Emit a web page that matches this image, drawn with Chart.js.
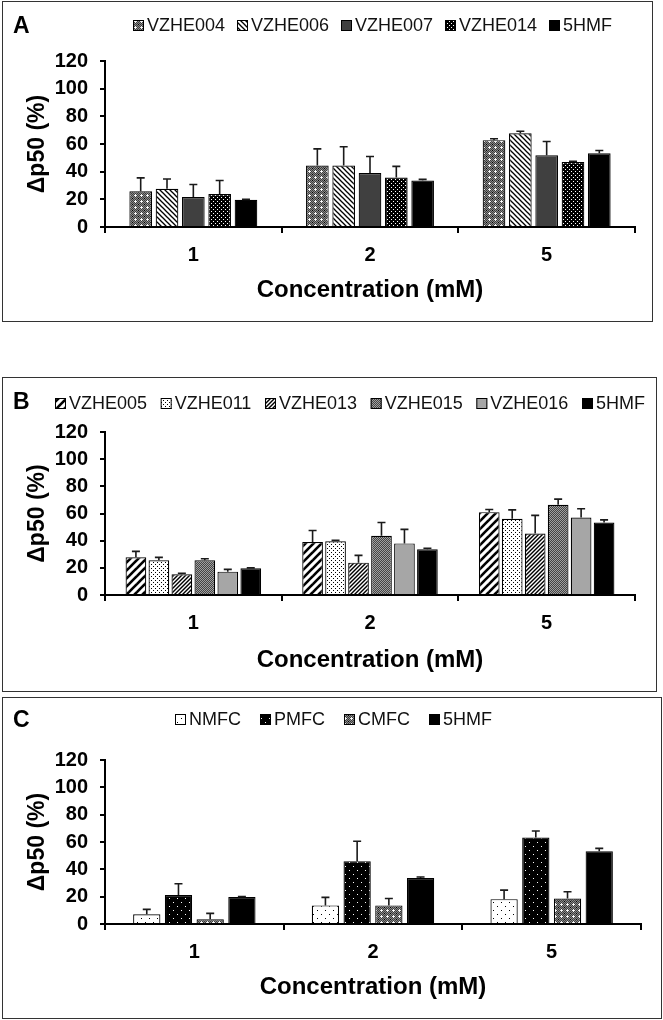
<!DOCTYPE html>
<html>
<head>
<meta charset="utf-8">
<script src="https://cdn.jsdelivr.net/npm/chart.js@4.4.0/dist/chart.umd.min.js"></script>
<style>
  body { margin: 0; background: #fff; width: 663px; height: 1020px; position: relative; overflow: hidden; font-family: "Liberation Sans", Arial, sans-serif; }
  .panel { position: absolute; border: 1.5px solid #333; box-sizing: border-box; }
  .tag { position: absolute; left: 13px; font-weight: bold; font-size: 23px; line-height: 22px; color: #000; }
  canvas { position: absolute; left: 0; }
</style>
</head>
<body>
<div class="panel" style="left:2px;top:1px;width:651px;height:321px"></div>
<div class="panel" style="left:2px;top:377px;width:655px;height:315px"></div>
<div class="panel" style="left:2px;top:697px;width:660px;height:322px"></div>

<canvas id="chartA" width="663" height="322" style="top:0px"></canvas>
<canvas id="chartB" width="663" height="315" style="top:377px"></canvas>
<canvas id="chartC" width="663" height="322" style="top:697px"></canvas>

<div class="tag" style="top:14px">A</div>
<div class="tag" style="top:390px">B</div>
<div class="tag" style="top:708px">C</div>

<script>
// concentrations (mM)
const categories = ['1', '2', '5'];
const yTicks = [0, 20, 40, 60, 80, 100, 120];

// 5HMF reference, shared by all panels
const hmf5 = [19.7, 33.6, 53.3];
const hmf5Err = [0.3, 0.8, 2];

// panel A
const vzhe004 = [25.8, 44.5, 62.8];
const vzhe004Err = [9.7, 12, 1];
const vzhe006 = [27.7, 44.5, 67.7];
const vzhe006Err = [7, 13.5, 1.5];
const vzhe007 = [21.7, 39, 51.8];
const vzhe007Err = [9, 12, 10];
const vzhe014 = [23.8, 35.8, 47];
const vzhe014Err = [9.8, 8, 0.5];

// panel B
const vzhe005 = [27.7, 39, 61];
const vzhe005Err = [4.4, 8.5, 2];
const vzhe011 = [25.5, 39.5, 56.1];
const vzhe011Err = [2.2, 0.7, 6.6];
const vzhe013 = [15.2, 23.8, 45.3];
const vzhe013Err = [0.8, 5.4, 13.3];
const vzhe015 = [25.5, 43.6, 66.4];
const vzhe015Err = [1.2, 9.8, 4.2];
const vzhe016 = [17.2, 38, 57.1];
const vzhe016Err = [1.7, 10.3, 6.4];

// panel C
const nmfc = [7.1, 13.6, 18.2];
const nmfcErr = [3.6, 5.9, 6.6];
const pmfc = [21.2, 46, 63.3];
const pmfcErr = [8.2, 14.6, 4.8];
const cmfc = [3.4, 13.6, 18.7];
const cmfcErr = [4.4, 5.1, 4.9];

const FONT = '"Liberation Sans", Arial, sans-serif';
Chart.defaults.font.family = FONT;
Chart.defaults.color = '#000';

// --- fill patterns (like the Excel ones) ---
const dummy = document.createElement('canvas').getContext('2d');
function tile(w, h, draw) {
  const c = document.createElement('canvas');
  c.width = w; c.height = h;
  draw(c.getContext('2d'), w, h);
  return dummy.createPattern(c, 'repeat');
}
function px(g, x, y, col) { g.fillStyle = col; g.fillRect(x, y, 1, 1); }
function stripes(g, w, h, bg, lw, dir) {
  g.fillStyle = bg; g.fillRect(0, 0, w, h);
  g.strokeStyle = '#000'; g.lineWidth = lw;
  for (let k = -1; k <= 1; k++) {
    g.beginPath();
    if (dir === '/') { g.moveTo(k * w - 1, h + 1); g.lineTo(k * w + w + 1, -1); }
    else { g.moveTo(k * w - 1, -1); g.lineTo(k * w + w + 1, h + 1); }
    g.stroke();
  }
}

const patGrayPlus = tile(6, 6, (g) => {
  for (let i = 0; i < 6; i++) for (let j = 0; j < 6; j++) px(g, i, j, (i + j) % 2 ? '#8a8a8a' : '#3c3c3c');
  [[3, 2], [2, 3], [4, 3], [3, 4]].forEach(p => px(g, p[0], p[1], '#eee'));
  px(g, 3, 3, '#fff');
  px(g, 0, 0, '#000');
});
const patBackslash = tile(5, 5, (g, w, h) => stripes(g, w, h, '#fff', 1.3, '\\'));
const patDarkDots = tile(4, 4, (g) => { g.fillStyle = '#000'; g.fillRect(0, 0, 4, 4); px(g, 1, 1, '#fff'); px(g, 3, 3, '#fff'); });
const patThickSlash = tile(8, 8, (g, w, h) => stripes(g, w, h, '#fff', 2.6, '/'));
const patLightDots = tile(4, 4, (g) => { g.fillStyle = '#fff'; g.fillRect(0, 0, 4, 4); px(g, 1, 1, '#000'); px(g, 3, 3, '#000'); });
const patThinSlash = tile(4, 4, (g, w, h) => stripes(g, w, h, '#fff', 1.4, '/'));
const patGrayCheck = tile(2, 2, (g) => { px(g, 0, 0, '#444'); px(g, 1, 1, '#444'); px(g, 1, 0, '#a0a0a0'); px(g, 0, 1, '#a0a0a0'); });
const patSparseWhite = tile(8, 8, (g) => { g.fillStyle = '#fff'; g.fillRect(0, 0, 8, 8); px(g, 1, 1, '#000'); px(g, 5, 5, '#000'); });
const patSparseBlack = tile(8, 8, (g) => { g.fillStyle = '#000'; g.fillRect(0, 0, 8, 8); px(g, 1, 1, '#fff'); px(g, 5, 5, '#fff'); });

// upper error bars
const errorBars = {
  id: 'errorBars',
  afterDatasetsDraw(chart) {
    const ctx = chart.ctx, y = chart.scales.y;
    ctx.save();
    ctx.strokeStyle = '#1a1a1a';
    ctx.lineWidth = 1.6;
    chart.data.datasets.forEach((ds, i) => {
      chart.getDatasetMeta(i).data.forEach((bar, j) => {
        const top = y.getPixelForValue(ds.data[j] + ds.errors[j]);
        ctx.beginPath();
        ctx.moveTo(bar.x, bar.y);
        ctx.lineTo(bar.x, top);
        ctx.moveTo(bar.x - 4, top);
        ctx.lineTo(bar.x + 4, top);
        ctx.stroke();
      });
    });
    ctx.restore();
  }
};

// legend row spread between x0 and x1 (Excel style)
const panelLegend = {
  id: 'panelLegend',
  afterDraw(chart, args, o) {
    const ctx = chart.ctx;
    ctx.save();
    ctx.font = '18px ' + FONT;
    ctx.textBaseline = 'middle';
    const items = chart.data.datasets.map(ds => ({ ds, w: o.box + o.gap + ctx.measureText(ds.label).width }));
    const total = items.reduce((s, it) => s + it.w, 0);
    const space = (o.x1 - o.x0 - total) / (items.length - 1);
    let x = o.x0;
    items.forEach(it => {
      const by = Math.round(o.y - o.box / 2);
      ctx.fillStyle = it.ds.backgroundColor;
      ctx.fillRect(x, by, o.box, o.box);
      ctx.strokeStyle = '#000';
      ctx.lineWidth = 1;
      ctx.strokeRect(x + 0.5, by + 0.5, o.box - 1, o.box - 1);
      ctx.fillStyle = '#111';
      ctx.fillText(it.ds.label, x + o.box + o.gap, o.y + 1);
      x += it.w + space;
    });
    ctx.restore();
  }
};

function series(label, data, errors, fill) {
  return { label, data, errors, backgroundColor: fill, borderColor: '#000', borderWidth: 1.2 };
}

function makeChart(id, datasets, o) {
  return new Chart(document.getElementById(id), {
    type: 'bar',
    data: { labels: categories, datasets },
    options: {
      responsive: false,
      animation: false,
      layout: { padding: { top: o.top, left: 10, right: o.right, bottom: 5 } },
      datasets: { bar: { categoryPercentage: o.cp, barPercentage: o.bp } },
      plugins: {
        legend: { display: false },
        tooltip: { enabled: false },
        panelLegend: { x0: o.lx0, x1: o.lx1, y: o.ly, box: 11, gap: 3 }
      },
      scales: {
        x: {
          grid: { drawOnChartArea: false, tickLength: 6, color: '#000', lineWidth: 2, offset: true },
          border: { display: true, color: '#000', width: 2 },
          ticks: { font: { size: 20, weight: 'bold' }, padding: 10 },
          title: { display: true, text: 'Concentration (mM)', font: { size: 24, weight: 'bold' }, padding: { top: 0, bottom: 12 } },
          afterFit: s => { s.height = o.xh; }
        },
        y: {
          min: 0, max: 120,
          afterBuildTicks: s => { s.ticks = yTicks.map(v => ({ value: v })); },
          grid: { drawOnChartArea: false, tickLength: 5, color: '#000', lineWidth: 2 },
          border: { display: true, color: '#000', width: 2 },
          ticks: { font: { size: 20, weight: 'bold' }, padding: 12 },
          title: { display: true, text: 'Δp50 (%)', font: { size: 23, weight: 'bold' }, padding: { top: 14, bottom: 0 } },
          afterFit: s => { s.width = 95; }
        }
      }
    },
    plugins: [errorBars, panelLegend]
  });
}

makeChart('chartA', [
  series('VZHE004', vzhe004, vzhe004Err, patGrayPlus),
  series('VZHE006', vzhe006, vzhe006Err, patBackslash),
  series('VZHE007', vzhe007, vzhe007Err, '#404040'),
  series('VZHE014', vzhe014, vzhe014Err, patDarkDots),
  series('5HMF', hmf5, hmf5Err, '#000')
], { top: 61, right: 28, xh: 90, cp: 0.745, bp: 0.86, lx0: 133, lx1: 612, ly: 25 });

makeChart('chartB', [
  series('VZHE005', vzhe005, vzhe005Err, patThickSlash),
  series('VZHE011', vzhe011, vzhe011Err, patLightDots),
  series('VZHE013', vzhe013, vzhe013Err, patThinSlash),
  series('VZHE015', vzhe015, vzhe015Err, patGrayCheck),
  series('VZHE016', vzhe016, vzhe016Err, '#a6a6a6'),
  series('5HMF', hmf5, hmf5Err, '#000')
], { top: 55, right: 28, xh: 92, cp: 0.78, bp: 0.9, lx0: 55, lx1: 645, ly: 26 });

makeChart('chartC', [
  series('NMFC', nmfc, nmfcErr, patSparseWhite),
  series('PMFC', pmfc, pmfcErr, patSparseBlack),
  series('CMFC', cmfc, cmfcErr, patGrayPlus),
  series('5HMF', hmf5, hmf5Err, '#000')
], { top: 63, right: 22, xh: 90, cp: 0.71, bp: 0.86, lx0: 175, lx1: 492, ly: 22 });
</script>
</body>
</html>
